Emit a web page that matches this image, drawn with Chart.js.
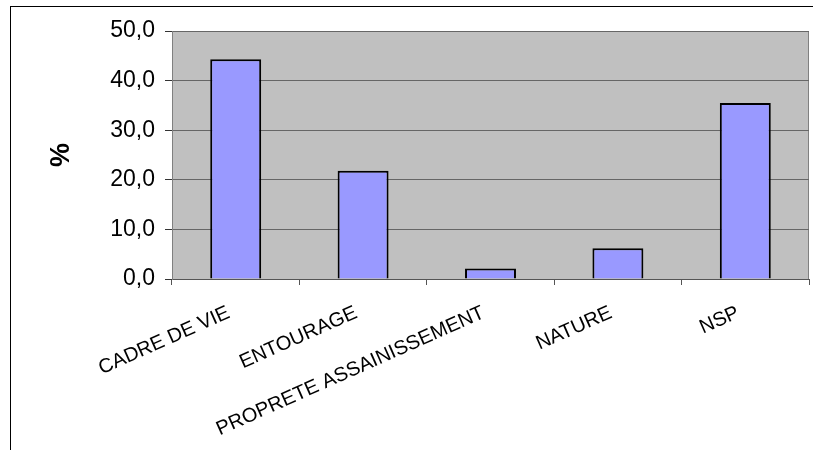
<!DOCTYPE html>
<html>
<head>
<meta charset="utf-8">
<script src="https://cdn.jsdelivr.net/npm/chart.js@4"></script>
<style>
  body { margin: 0; background: #fff; }
  #wrap { position: relative; width: 813px; height: 450px; }
  #frame { position: absolute; left: 10px; top: 6px; right: 0; bottom: 0; border-top: 1px solid #000; border-left: 1px solid #000; }
  canvas { position: absolute; left: 0; top: 0; }
</style>
</head>
<body>
<div id="wrap">
  <div id="frame"></div>
  <canvas id="myChart" width="813" height="450"></canvas>
</div>
<script>
// data
const categories = ['CADRE DE VIE', 'ENTOURAGE', 'PROPRETE ASSAINISSEMENT', 'NATURE', 'NSP'];
const percents = [44.3, 21.8, 2.1, 6.2, 35.5];
const yTicks = [0, 10, 20, 30, 40, 50];

// grey plot background with thin border, like the old spreadsheet charts
const plotBackground = {
  id: 'plotBackground',
  beforeDraw(chart) {
    const {ctx, chartArea: a} = chart;
    ctx.save();
    ctx.fillStyle = '#C0C0C0';
    ctx.fillRect(a.left, a.top, a.right - a.left, a.bottom - a.top);
    ctx.strokeStyle = '#808080';
    ctx.lineWidth = 1;
    ctx.strokeRect(a.left + 0.5, a.top + 0.5, a.right - a.left - 1, a.bottom - a.top);
    ctx.restore();
  }
};

const myChartRef = document.getElementById('myChart').getContext('2d');
const myChart = new Chart(myChartRef, {
  type: 'bar',
  data: {
    labels: categories,
    datasets: [{
      data: percents,
      backgroundColor: '#9999FF',
      borderColor: '#000000',
      borderWidth: 2,
      barPercentage: 0.4,
      categoryPercentage: 1
    }]
  },
  options: {
    responsive: false,
    animation: false,
    layout: { padding: { left: 20, top: 31, right: 4, bottom: 0 } },
    plugins: {
      legend: { display: false },
      tooltip: { enabled: false }
    },
    scales: {
      x: {
        grid: {
          offset: true,
          drawOnChartArea: false,
          tickLength: 6,
          color: '#555'
        },
        border: { color: '#555' },
        ticks: {
          color: '#000',
          font: { family: 'Liberation Sans, Arial', size: 20 },
          minRotation: 24,
          maxRotation: 24,
          autoSkip: false,
          padding: 16,
          labelOffset: -7
        },
        afterFit(scale) { scale.height = 171; }
      },
      y: {
        min: 0,
        max: 50,
        afterBuildTicks(scale) { scale.ticks = yTicks.map(v => ({value: v})); },
        grid: {
          color: '#666',
          tickColor: '#333',
          tickLength: 7
        },
        border: { color: '#808080' },
        ticks: {
          color: '#000',
          font: { family: 'Liberation Sans, Arial', size: 23 },
          padding: 10,
          callback: v => v.toFixed(1).replace('.', ',')
        },
        title: {
          display: true,
          text: '%',
          color: '#000',
          font: { family: 'Liberation Sans, Arial', size: 27, weight: 'bold' },
          padding: { top: 25, bottom: 0 }
        },
        afterFit(scale) { scale.width = 152; }
      }
    }
  },
  plugins: [plotBackground]
});
</script>
</body>
</html>
